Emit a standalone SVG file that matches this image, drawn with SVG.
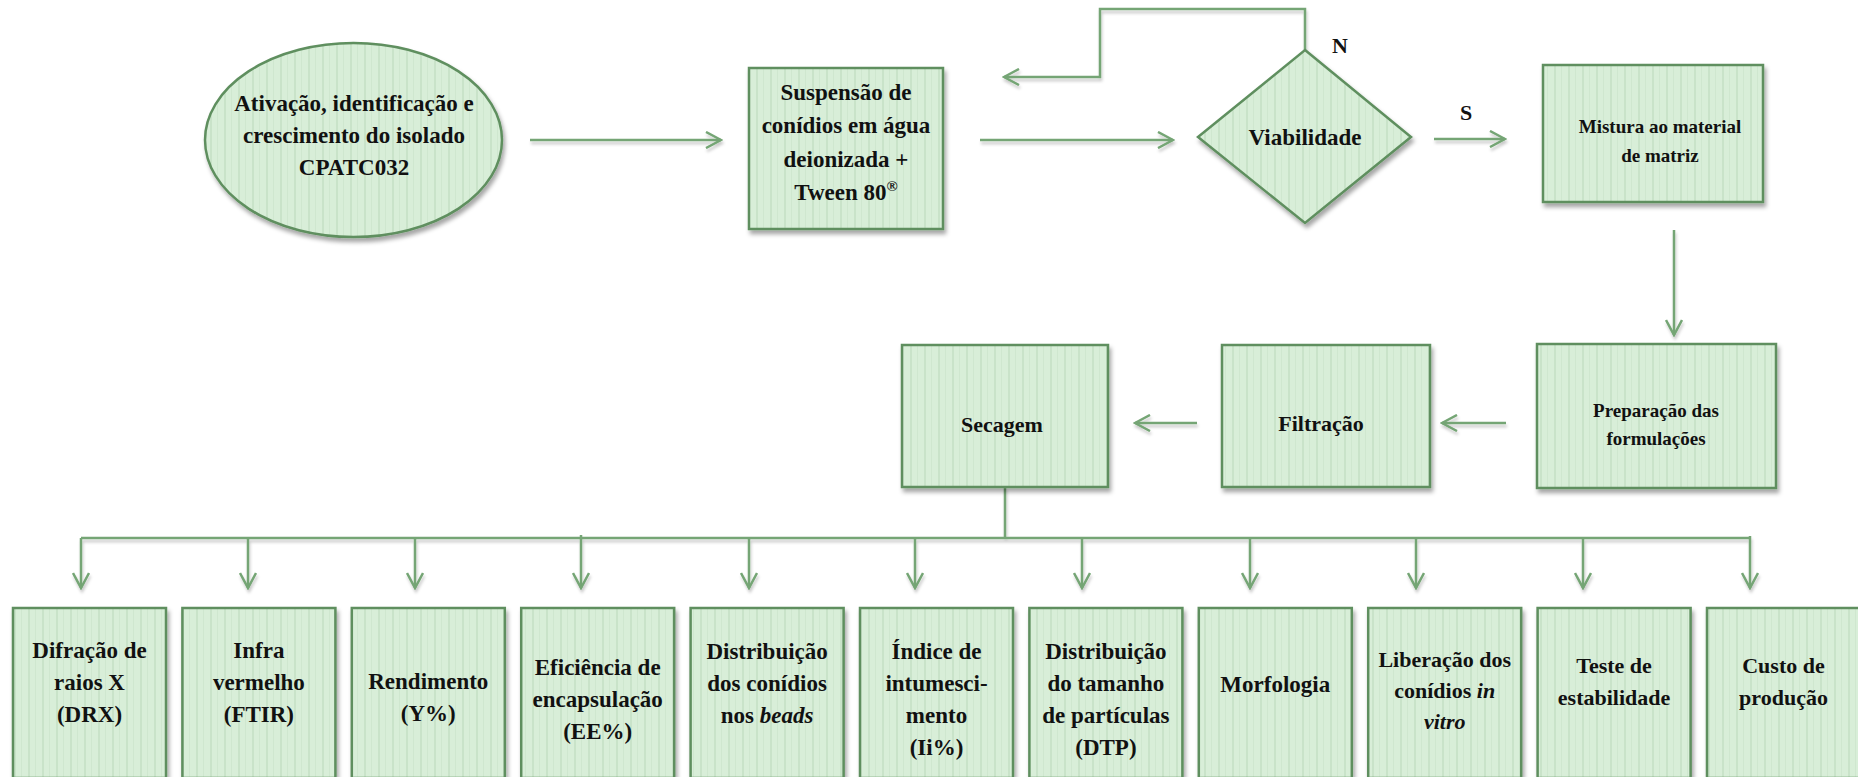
<svg xmlns="http://www.w3.org/2000/svg" width="1858" height="777" viewBox="0 0 1858 777">
<style>
.node{fill:url(#stripes);stroke:#5f8f5f;stroke-width:2.5;filter:url(#sh)}
.t{font-family:"Liberation Serif","Times New Roman",serif;font-weight:bold;fill:#111;text-anchor:middle}
.t23{font-size:23px}
.t22{font-size:22px}
.t19{font-size:19px}
.con{fill:none;stroke:#74a574;stroke-width:2.5}
.arr{marker-end:url(#ah)}
</style>
<defs>
<pattern id="stripes" width="14" height="10" patternUnits="userSpaceOnUse">
<rect width="14" height="10" fill="#d8eed8"/>
<rect x="0" width="2" height="10" fill="#c9e3c9"/>
<rect x="7" width="1" height="10" fill="#cfe7cf"/>
</pattern>
<filter id="sh" x="-10%" y="-10%" width="130%" height="130%">
<feDropShadow dx="2" dy="4" stdDeviation="2" flood-color="#000" flood-opacity="0.35"/>
</filter>
<filter id="lsh" filterUnits="userSpaceOnUse" x="0" y="0" width="1858" height="777">
<feDropShadow dx="1" dy="3" stdDeviation="1.5" flood-color="#000" flood-opacity="0.22"/>
</filter>
<marker id="ah" viewBox="0 0 18 18" refX="16" refY="9" markerWidth="18" markerHeight="18" markerUnits="userSpaceOnUse" orient="auto">
<path d="M1,1 L16,9 L1,17" fill="none" stroke="#74a574" stroke-width="2.5"/>
</marker>
</defs>
<rect width="1858" height="777" fill="#fff"/>

<g id="connectors">
<g filter="url(#lsh)">
<path class="con arr" d="M530,140 H721"/>
<path class="con arr" d="M980,140 H1173"/>
<path class="con arr" d="M1305,50 V9 H1100 V77 H1004"/>
<path class="con arr" d="M1434,139 H1505"/>
<path class="con arr" d="M1674,230 V335"/>
<path class="con arr" d="M1506,423 H1442"/>
<path class="con arr" d="M1197,423 H1135"/>
<path class="con" d="M1005,487 V538 M81,538 H1750"/>
<path class="con arr" d="M81,538 V588"/>
<path class="con arr" d="M248,538 V588"/>
<path class="con arr" d="M415,538 V588"/>
<path class="con arr" d="M581,535 V588"/>
<path class="con arr" d="M749,538 V588"/>
<path class="con arr" d="M915,538 V588"/>
<path class="con arr" d="M1082,538 V588"/>
<path class="con arr" d="M1250,538 V588"/>
<path class="con arr" d="M1416,538 V588"/>
<path class="con arr" d="M1583,538 V588"/>
<path class="con arr" d="M1750,536 V588"/>
</g>
<text class="t t22" x="1340" y="53">N</text>
<text class="t t22" x="1466" y="120">S</text>
</g>

<g id="n-ativacao">
<ellipse class="node" cx="353.5" cy="140" rx="148.5" ry="97"/>
<text class="t t23" x="354" y="111">Ativação, identificação e</text>
<text class="t t23" x="354" y="143">crescimento do isolado</text>
<text class="t t23" x="354" y="175">CPATC032</text>
</g>

<g id="n-suspensao">
<rect class="node" x="749" y="68" width="194" height="161"/>
<text class="t t23" x="846" y="100">Suspensão de</text>
<text class="t t23" x="846" y="133">conídios em água</text>
<text class="t t23" x="846" y="167">deionizada +</text>
<text class="t t23" x="846" y="200">Tween 80<tspan font-size="15" dy="-9">®</tspan></text>
</g>

<g id="n-viabilidade">
<polygon class="node" points="1305,50 1411,137 1305,223 1198,137"/>
<text class="t t23" x="1305" y="145">Viabilidade</text>
</g>

<g id="n-mistura">
<rect class="node" x="1543" y="65" width="220" height="137"/>
<text class="t t19" x="1660" y="133">Mistura ao material</text>
<text class="t t19" x="1660" y="162">de matriz</text>
</g>

<g id="n-preparacao">
<rect class="node" x="1537" y="344" width="239" height="144"/>
<text class="t t19" x="1656" y="417">Preparação das</text>
<text class="t t19" x="1656" y="445">formulações</text>
</g>

<g id="n-filtracao">
<rect class="node" x="1222" y="345" width="208" height="142"/>
<text class="t t22" x="1321" y="431">Filtração</text>
</g>

<g id="n-secagem">
<rect class="node" x="902" y="345" width="206" height="142"/>
<text class="t t22" x="1002" y="432">Secagem</text>
</g>

<g id="n-drx">
<rect class="node" x="13" y="608" width="153" height="170"/>
<text class="t t23" x="89.5" y="658">Difração de</text>
<text class="t t23" x="89.5" y="690">raios X</text>
<text class="t t23" x="89.5" y="722">(DRX)</text>
</g>
<g id="n-ftir">
<rect class="node" x="182.4" y="608" width="153" height="170"/>
<text class="t t23" x="258.9" y="658">Infra</text>
<text class="t t23" x="258.9" y="690">vermelho</text>
<text class="t t23" x="258.9" y="722">(FTIR)</text>
</g>
<g id="n-rendimento">
<rect class="node" x="351.8" y="608" width="153" height="170"/>
<text class="t t23" x="428.3" y="689">Rendimento</text>
<text class="t t23" x="428.3" y="721">(Y%)</text>
</g>
<g id="n-eficiencia">
<rect class="node" x="521.2" y="608" width="153" height="170"/>
<text class="t t23" x="597.7" y="675">Eficiência de</text>
<text class="t t23" x="597.7" y="707">encapsulação</text>
<text class="t t23" x="597.7" y="739">(EE%)</text>
</g>
<g id="n-distribuicao">
<rect class="node" x="690.6" y="608" width="153" height="170"/>
<text class="t t23" x="767.1" y="659">Distribuição</text>
<text class="t t23" x="767.1" y="691">dos conídios</text>
<text class="t t23" x="767.1" y="723">nos <tspan font-style="italic">beads</tspan></text>
</g>
<g id="n-indice">
<rect class="node" x="860" y="608" width="153" height="170"/>
<text class="t t23" x="936.5" y="659">Índice de</text>
<text class="t t23" x="936.5" y="691">intumesci-</text>
<text class="t t23" x="936.5" y="723">mento</text>
<text class="t t23" x="936.5" y="755">(Ii%)</text>
</g>
<g id="n-dtp">
<rect class="node" x="1029.4" y="608" width="153" height="170"/>
<text class="t t23" x="1105.9" y="659">Distribuição</text>
<text class="t t23" x="1105.9" y="691">do tamanho</text>
<text class="t t23" x="1105.9" y="723">de partículas</text>
<text class="t t23" x="1105.9" y="755">(DTP)</text>
</g>
<g id="n-morfologia">
<rect class="node" x="1198.8" y="608" width="153" height="170"/>
<text class="t t23" x="1275.3" y="692">Morfologia</text>
</g>
<g id="n-liberacao">
<rect class="node" x="1368.2" y="608" width="153" height="170"/>
<text class="t t22" x="1444.7" y="667">Liberação dos</text>
<text class="t t22" x="1444.7" y="698">conídios <tspan font-style="italic">in</tspan></text>
<text class="t t22" x="1444.7" y="729" font-style="italic">vitro</text>
</g>
<g id="n-estabilidade">
<rect class="node" x="1537.6" y="608" width="153" height="170"/>
<text class="t t22" x="1614.1" y="673">Teste de</text>
<text class="t t22" x="1614.1" y="705">estabilidade</text>
</g>
<g id="n-custo">
<rect class="node" x="1707" y="608" width="153" height="170"/>
<text class="t t22" x="1783.5" y="673">Custo de</text>
<text class="t t22" x="1783.5" y="705">produção</text>
</g>
</svg>
